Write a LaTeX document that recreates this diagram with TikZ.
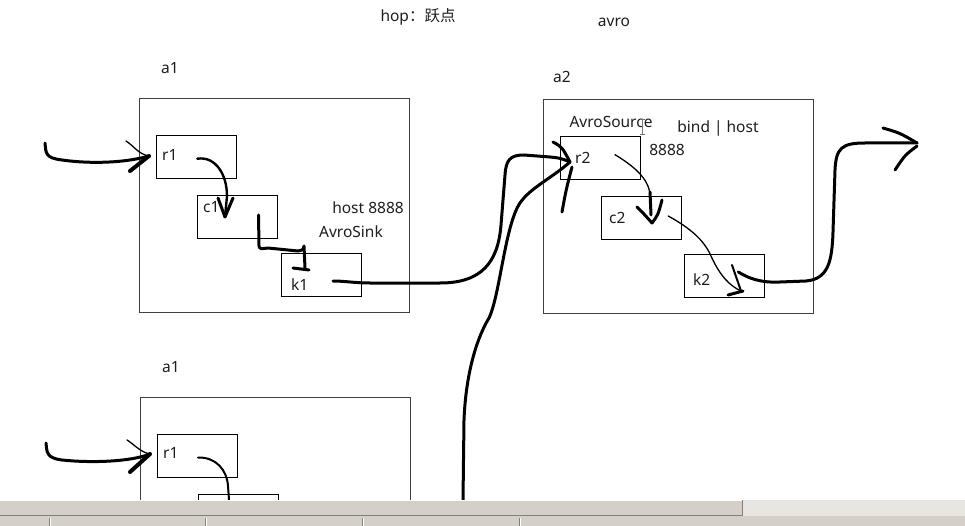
\documentclass[tikz,border=0pt]{standalone}
\usepackage{fontspec}
\setmainfont{Noto Sans}
\newfontfamily\cjk{Noto Sans CJK SC}
\usetikzlibrary{calc}
\definecolor{ink}{HTML}{1E1E1E}
\definecolor{winbar}{HTML}{D4D0C8}
\definecolor{winhatch}{HTML}{E8E6E1}
\definecolor{winshade}{HTML}{808080}
\tikzset{every node/.style={inner sep=0pt, text=ink, font=\fontsize{15.5}{18}\selectfont},
  agentbox/.style={draw=black!75, line width=0.9pt, minimum width=270pt, minimum height=214pt},
  compbox/.style={draw=black, line width=0.9pt, minimum width=80pt, minimum height=43pt},
  pen/.style={line width=3pt, line cap=round, line join=round},
  thinpen/.style={line width=1.3pt, line cap=round, line join=round}}
\begin{document}
\begin{tikzpicture}[x=1pt,y=-1pt]
\useasboundingbox (0,0) rectangle (965,526);
\fill[white] (0,0) rectangle (965,526);
\node (hop) at (418,17) {hop\cjk：跃点};
\node (avro) at (614,22) {avro};
\node (a1title) at (170,68) {a1};
\node (a2title) at (562,77) {a2};
\node[agentbox] (a1) at (274.7,205) {};
\node[agentbox] (a2) at (678.3,206) {};
\node[compbox] (r1) at (196.3,156.7) {};
\node[compbox] (c1) at (237.5,217) {};
\node[compbox] (k1) at (321,275) {};
\node[compbox] (r2) at (600,157.7) {};
\node[compbox] (c2) at (641.2,218) {};
\node[compbox] (k2) at (724.3,276) {};
\node[anchor=west] (r1txt) at (162,155) {r1};
\node[anchor=west] (c1txt) at (203,207) {c1};
\node[anchor=west] (k1txt) at (291,285) {k1};
\node[anchor=west] (r2txt) at (575,158) {r2};
\node[anchor=west] (c2txt) at (609,218) {c2};
\node[anchor=west] (k2txt) at (693,280) {k2};
\node (sinkhost) at (368,208) {host 8888};
\node (sinktype) at (351,232) {AvroSink};
\node (srctype) at (611,122) {AvroSource};
\node (srcbind) at (718,128) {bind | host};
\node (srcport) at (667,150) {8888};
\draw[black!55, line width=0.8pt] (642,119) -- (642,134) (639.5,119) -- (644.5,119) (639.5,134) -- (644.5,134);
\node (b1title) at (171,367) {a1};
\node[agentbox] (b1) at (275,504) {};
\node[compbox] (br1) at (197,455.5) {};
\node[compbox] (bc1) at (238,515.5) {};
\node[anchor=west] (br1txt) at (163,453) {r1};
\coordinate (inA) at (45,143);
\coordinate (tipA) at (149,156);
\draw[pen] (inA) .. controls (46,153) and (45,158) .. (62,160) .. controls (90,164) and (125,163) .. (tipA);
\draw[thinpen] (126,141) .. controls (134,146) and (138,154) .. (tipA);
\draw[pen, line width=4pt] (130,171) -- (tipA);
\coordinate (tipB) at (225,217);
\draw[pen, line width=2.4pt] ($(r1.center)+(1,2)$) .. controls (216,156) and (227,175) .. (227,196) -- (tipB);
\draw[pen] (218,198) -- (tipB) -- (233,198);
\coordinate (tipC) at (305,268);
\draw[pen] ($(c1.center)+(21,-2)$) -- (259,246) .. controls (260,249) .. (268,248) -- (298,251) .. controls (303,250) .. (304,246) -- (tipC);
\draw[pen] (293,268) -- (309,270);
\coordinate (r2in) at (570,162);
\draw[pen] ($(k1.center)+(12,6)$) .. controls (345,281) and (355,283) .. (370,283) -- (440,283) .. controls (482,283) and (498,262) .. (501,225) -- (505,175) .. controls (506,160) and (510,155) .. (524,155) -- (550,157) .. controls (560,158) .. (r2in);
\coordinate (inE) at (463,500);
\draw[pen] (inE) -- (464,420) .. controls (466,370) and (478,336) .. (489,318) .. controls (500,295) and (505,225) .. (520,203) .. controls (530,188) and (552,178) .. (r2in);
\draw[pen] (553,142) .. controls (562,147) .. (r2in);
\draw[pen] (562,212) .. controls (566,190) .. (572,167);
\coordinate (tipF) at (652,223);
\draw[thinpen] ($(r2.center)+(15,-3)$) .. controls (632,165) and (649,178) .. (650,195) -- (651,212);
\draw[pen] (650,192) -- (651,215);
\draw[pen] (637,207) .. controls (644,214) .. (tipF) .. controls (658,215) .. (662,200);
\coordinate (tipG) at (741,291);
\draw[thinpen] ($(c2.center)+(27,-2)$) .. controls (690,228) and (704,240) .. (711,256) .. controls (720,276) and (730,286) .. (tipG);
\draw[pen, line width=2pt] (732,265) -- (tipG);
\draw[pen] (728,295) -- (743,291);
\coordinate (outH) at (917,143);
\draw[pen] ($(k2.center)+(14,-4)$) .. controls (748,278) and (760,283) .. (780,282) -- (806,281) .. controls (828,279) and (832,262) .. (833,232) -- (835,170) .. controls (836,148) and (842,143) .. (865,143) -- (outH);
\draw[pen] (883,128) .. controls (900,133) .. (outH);
\draw[pen] (895,170) .. controls (905,155) .. (917,146);
\coordinate (inI) at (46,443);
\coordinate (tipI) at (150,454);
\draw[pen] (inI) .. controls (47,452) and (46,458) .. (62,460) .. controls (90,463) and (130,462) .. (tipI);
\draw[thinpen] (127,440) .. controls (135,445) and (140,452) .. (tipI);
\draw[pen, line width=4pt] (130,472) -- (tipI);
\draw[pen, line width=2pt] ($(br1.center)+(1,2)$) .. controls (216,457) and (227,470) .. (228,486) -- (229,500);
\fill[winbar] (0,500) rectangle (743,516);
\draw[white] (0,500.5) -- (742,500.5);
\draw[winshade] (0,515.5) -- (742.5,515.5) -- (742.5,500);
\fill[winhatch] (743,500) rectangle (965,516);
\fill[winbar] (0,516) rectangle (965,526);
\foreach \sx in {49,205,362,519} {
  \draw[winshade] (\sx,518) -- (\sx,526);
  \draw[white] (\sx+1,518) -- (\sx+1,526);
}
\end{tikzpicture}
\end{document}
